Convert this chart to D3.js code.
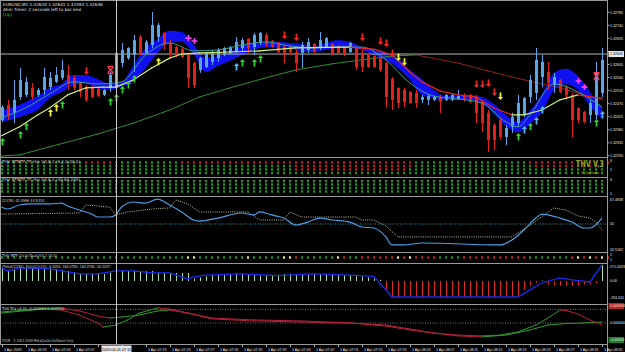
<!DOCTYPE html>
<html><head><meta charset="utf-8">
<script src="https://cdn.jsdelivr.net/npm/d3@7/dist/d3.min.js"></script>
<style>html,body{margin:0;padding:0;background:#000;overflow:hidden}svg{display:block}</style>
</head><body>
<svg id="c" width="625" height="352"></svg>
<script>
// ---------------- DATA ----------------
const symbolInfo = "EURUSD,M1  1.32620 1.32641 1.32593 1.32636";
const timerInfo = "Ahm Timer: 2 seconds left to bar end";
const open = [1.32414,1.32465,1.32438,1.32493,1.32500,1.32524,1.32500,1.32517,1.32527,1.32545,
1.32559,1.32569,1.32559,1.32541,1.32527,1.32527,1.32521,1.32500,1.32524,1.32524,
1.32610,1.32627,1.32638,1.32700,1.32645,1.32672,1.32700,1.32714,1.32679,1.32665,
1.32658,1.32638,1.32610,1.32586,1.32596,1.32614,1.32627,1.32638,1.32645,1.32648,
1.32662,1.32693,1.32665,1.32679,1.32707,1.32686,1.32679,1.32665,1.32665,1.32648,
1.32645,1.32655,1.32676,1.32662,1.32665,1.32676,1.32669,1.32662,1.32648,1.32662,
1.32645,1.32638,1.32634,1.32627,1.32610,1.32555,1.32524,1.32517,1.32510,1.32507,
1.32483,1.32483,1.32483,1.32493,1.32483,1.32483,1.32486,1.32500,1.32500,1.32493,
1.32476,1.32438,1.32396,1.32414,1.32355,1.32390,1.32403,1.32431,1.32493,1.32507,
1.32562,1.32579,1.32534,1.32552,1.32527,1.32500,1.32455,1.32441,1.32431,1.32431,1.32507];
const high = [1.32465,1.32483,1.32552,1.32593,1.32562,1.32541,1.32524,1.32593,1.32579,1.32596,
1.32621,1.32603,1.32565,1.32545,1.32534,1.32534,1.32524,1.32521,1.32579,1.32683,
1.32679,1.32665,1.32707,1.32707,1.32689,1.32786,1.32748,1.32717,1.32689,1.32669,
1.32662,1.32645,1.32614,1.32631,1.32648,1.32655,1.32662,1.32665,1.32669,1.32700,
1.32696,1.32696,1.32714,1.32717,1.32714,1.32689,1.32683,1.32672,1.32672,1.32655,
1.32683,1.32696,1.32679,1.32717,1.32700,1.32679,1.32672,1.32665,1.32683,1.32665,
1.32655,1.32645,1.32638,1.32631,1.32614,1.32562,1.32527,1.32524,1.32514,1.32517,
1.32500,1.32500,1.32496,1.32500,1.32503,1.32503,1.32517,1.32507,1.32503,1.32500,
1.32483,1.32448,1.32403,1.32421,1.32396,1.32438,1.32500,1.32493,1.32569,1.32662,
1.32638,1.32614,1.32576,1.32555,1.32534,1.32507,1.32458,1.32445,1.32483,1.32614,1.32662];
const low = [1.32407,1.32414,1.32403,1.32483,1.32493,1.32483,1.32493,1.32500,1.32517,1.32541,
1.32552,1.32517,1.32517,1.32493,1.32476,1.32489,1.32493,1.32496,1.32510,1.32510,
1.32596,1.32621,1.32579,1.32638,1.32638,1.32662,1.32683,1.32655,1.32627,1.32631,
1.32627,1.32524,1.32524,1.32576,1.32593,1.32603,1.32614,1.32634,1.32638,1.32645,
1.32648,1.32645,1.32638,1.32672,1.32665,1.32662,1.32645,1.32610,1.32638,1.32579,
1.32593,1.32645,1.32645,1.32655,1.32662,1.32638,1.32641,1.32634,1.32645,1.32586,
1.32579,1.32593,1.32593,1.32579,1.32458,1.32448,1.32455,1.32458,1.32469,1.32455,
1.32472,1.32465,1.32479,1.32438,1.32479,1.32479,1.32483,1.32476,1.32472,1.32403,
1.32372,1.32303,1.32310,1.32345,1.32327,1.32369,1.32390,1.32424,1.32472,1.32483,
1.32527,1.32517,1.32507,1.32507,1.32483,1.32352,1.32403,1.32403,1.32403,1.32414,1.32493];
const close = [1.32458,1.32431,1.32483,1.32552,1.32545,1.32493,1.32517,1.32562,1.32559,1.32569,
1.32586,1.32541,1.32524,1.32510,1.32483,1.32493,1.32496,1.32517,1.32569,1.32645,
1.32655,1.32662,1.32689,1.32645,1.32683,1.32741,1.32741,1.32672,1.32638,1.32638,
1.32631,1.32559,1.32534,1.32627,1.32645,1.32648,1.32655,1.32662,1.32665,1.32683,
1.32689,1.32662,1.32707,1.32714,1.32672,1.32665,1.32648,1.32645,1.32648,1.32610,
1.32672,1.32683,1.32648,1.32689,1.32696,1.32641,1.32645,1.32638,1.32679,1.32596,
1.32596,1.32596,1.32596,1.32586,1.32493,1.32483,1.32472,1.32476,1.32472,1.32472,
1.32493,1.32496,1.32493,1.32476,1.32500,1.32500,1.32496,1.32483,1.32476,1.32438,
1.32403,1.32345,1.32345,1.32355,1.32386,1.32424,1.32472,1.32489,1.32552,1.32621,
1.32614,1.32541,1.32562,1.32510,1.32500,1.32414,1.32414,1.32407,1.32472,1.32576,1.32621];

// blue channel (every 2nd bar)
const bandBars = d3.range(0, 101, 2);
const bandHi = [1.32448,1.32458,1.32476,1.32496,1.32524,1.32538,1.32569,1.32569,1.32555,1.32538,
1.32545,1.32603,1.32662,1.32693,1.32721,1.32717,1.32672,1.32627,1.32634,1.32648,
1.32669,1.32679,1.32683,1.32683,1.32679,1.32676,1.32665,1.32679,1.32689,1.32683,
1.32665,1.32655,1.32645,1.32627,1.32586,1.32555,1.32517,1.32496,1.32496,1.32500,
1.32493,1.32469,1.32431,1.32407,1.32445,1.32503,1.32576,1.32590,1.32565,1.32510,1.32455];
const bandLo = [1.32407,1.32417,1.32431,1.32448,1.32489,1.32510,1.32534,1.32541,1.32521,1.32517,
1.32527,1.32548,1.32593,1.32645,1.32679,1.32683,1.32641,1.32579,1.32600,1.32617,
1.32638,1.32655,1.32665,1.32665,1.32662,1.32648,1.32648,1.32655,1.32662,1.32662,
1.32655,1.32638,1.32621,1.32593,1.32552,1.32500,1.32489,1.32483,1.32483,1.32483,
1.32472,1.32434,1.32393,1.32372,1.32400,1.32441,1.32517,1.32538,1.32517,1.32462,1.32417];

const tealBars = [0,4,8,12,16,20,24,28,32,36,40,44,48,52,56,60,64,68,72,76,80,84,86,88,92,96,100];
const tealVals = [1.32421,1.32455,1.32503,1.32545,1.32538,1.32545,1.32638,1.32679,1.32652,1.32655,
1.32672,1.32683,1.32669,1.32662,1.32665,1.32665,1.32621,1.32541,1.32496,1.32486,
1.32472,1.32407,1.32390,1.32431,1.32538,1.32510,1.32458];

const midBars = [0,3,6,8,11,14,17,19,22,25,28,30,33,38,43,49,54,58,62,65,68,70,73,76,79,82,85,87,90,93,96,98,100];
const midVals = [1.32359,1.32390,1.32431,1.32455,1.32500,1.32524,1.32527,1.32527,1.32552,1.32593,
1.32627,1.32641,1.32645,1.32648,1.32652,1.32662,1.32664,1.32665,1.32658,1.32638,
1.32579,1.32545,1.32514,1.32500,1.32493,1.32455,1.32431,1.32431,1.32448,1.32483,
1.32500,1.32493,1.32489];

const slowBars = [0,3,8,16,22,28,33,38,44,49,55,60,65,69,76,81,87,93,99,100];
const slowVals = [1.32289,1.32293,1.32321,1.32365,1.32403,1.32448,1.32493,1.32524,1.32559,1.32586,
1.32607,1.32621,1.32634,1.32638,1.32610,1.32583,1.32552,1.32524,1.32489,1.32483];

const upBars  = [0,3,4,8,9,10,18,19,20,21,22,26,39,40,42,43,86,87,88,89,90,99,100];
const upVals  = [1.32338,1.32362,1.32390,1.32438,1.32455,1.32465,1.32476,1.32489,1.32517,1.32534,
1.32555,1.32614,1.32596,1.32610,1.32610,1.32624,1.32355,1.32379,1.32390,1.32410,1.32448,1.32403,1.32431];
const upKind  = ["g","g","g","y","y","g","g","g","g","g","g","y","c","g","g","g","g","c","g","c","c","g","c"];
const dnBars  = [14,47,49,60,63,64,65,66,67,79,80,81,82,83];
const dnVals  = [1.32583,1.32707,1.32700,1.32700,1.32686,1.32679,1.32645,1.32631,1.32614,1.32538,1.32538,1.32541,1.32510,1.32496];
const dnKind  = ["r","r","r","r","r","r","r","y","y","r","r","r","r","y"];
const plusBars = [31,32,96,97];
const plusVals = [1.32696,1.32686,1.32548,1.32527];
const starBars = [18,99];
const starVals = [1.32586,1.32565];

const priceTicks = [1.32785,1.32740,1.32695,1.32650,1.32605,1.32560,1.32515,1.32470,1.32425,1.32380,1.32335,1.32290];
const crossBar = 19, crossPrice = 1.32641, crossTimeLabel = "2009.04.01 07:11";
const timeLabels = ["1 Apr 2009","1 Apr 06:59","1 Apr 07:03","1 Apr 07:07","","1 Apr 07:15","1 Apr 07:19",
"1 Apr 07:23","1 Apr 07:27","1 Apr 07:31","1 Apr 07:35","1 Apr 07:39","1 Apr 07:43","1 Apr 07:47","1 Apr 07:51",
"1 Apr 07:55","1 Apr 07:59","1 Apr 08:03","1 Apr 08:07","1 Apr 08:11","1 Apr 08:15","1 Apr 08:19","1 Apr 08:23",
"1 Apr 08:27","1 Apr 08:31","1 Apr 08:35"];

// MTF dot panes (G green, R red, Y yellow)
const p2Rows = [
"GGGGGGGGGGGGGGRRRRRRGGGGGGGGGGRRRRRRRRRRRRRRRRRRRRRRRRRRRRRRRRRRRRRRRGGGGGGGGGGGGGGGGGGGRRRRRRRRRRRRRR",
"GGGGGGGGGGGGGGGGGGGGGGGGGGGGGGGGGGGGGGGGGGGGGGGGGRRRRRRRRRRRRRRRRRRRRGGGGGGGGGGGGGGGGGGGGRRRRRRRRRRRR",
"GGGGGGGGGGGGGGGGGGGGGGGGGGGGGGGGGGGGGGGGGGGGGGGGGRRRRRRRRRRRRRRRRRRRGGGGGGGGGGGGGGGGGGGGGGGGGGGGGGGGG",
"GGGGGGGGGGGGGGGGGGGGGGGGGGGGGGGGGGGGGGGGGGGGGGGGGGGGGGGGGGGGGGGGGGGGGGGGGGGGGGGGGGGGGGGGGGGGGGGGGGGGG"];
const p3Rows = [
"GGGGGGGGGGGGGGGGGGGGGGGGGGGGGGGGGGGGGGGGGGGGGGGGGGGGGGGGGGGGGGGGGGGGGGGGGGGGGGGGGGGGGGGGGGGGGGGGGGGGG",
"GGGGGGGGGGGGGGGGGGGGGGGGGGGGGGGGGGGGGGGGGGGGGGGGGGGGGGGGGGGGGGGGGGGGGGGGGGGGGGGGGGGGGGGGGGGGGGGGGGGGG",
"GGGGGGGGGGGGGGGGGGGGGGGGGGGGGGGGGGGGGGGGGGGGGGGGGGGGGGGGGGGGGGGGGGGGGGGGGGGGGGGGGGGGGGGGGGGGGGGGGGGGG",
"GGGGGGGGGGGGGGGGGGGGGGGGGGGGGGGGGGGGGGGGGGGGGGGGGGGGGGGGGGGGGGGGGGGGGGGGGGGGGGGGGGGGGGGGGGGGGGGGGGGGG"];
const p5Row =
"GGGGGGGGGGGGGGGGGGGGGGGGGGGGGGGYYGGGGGGGGYGGGGGYYRGGGGGGYRGGRRRRRRYRYRRRRGGGGRRRRRRRRRRRGGGGGGGRYRYRYR";

// oscillator pane (0-100 scale)
const oscBars = [0,1,3,5,8,10,11,13,15,16,18,19,20,22,24,26,28,30,32,33,36,40,42,43,45,47,49,51,53,55,58,60,62,64,65,67,70,83,85,87,89,90,93,95,97,98,100];
const oscVals = [61.4,60.1,62.8,63.5,63.5,64.1,62.1,59.4,56.7,54.7,54.7,56.1,61.4,64.8,64.1,66.8,62.8,58.1,52.7,52.0,
54.0,57.4,56.1,58.1,56.1,54.0,49.3,51.3,54.0,52.7,51.3,48.0,47.3,41.3,35.9,35.9,37.2,35.9,39.2,46.0,54.0,56.7,54.0,51.3,47.3,47.3,54.0];
const sigBars = [0,13,14,18,19,21,25,28,29,31,33,41,43,47,48,50,59,60,62,64,66,85,88,92,94,96,98,99,100];
const sigVals = [56.7,57.4,62.8,61.4,56.1,58.1,60.1,60.8,66.2,63.5,58.1,58.1,52.7,52.7,58.1,54.7,54.7,52.7,52.7,48.7,41.3,41.3,49.3,60.8,59.4,55.4,54.0,51.3,46.0];

// TrendCCI pane
const cciBars = [0,1,3,8,11,13,16,19,22,25,28,31,32,34,40,46,52,58,62,64,65,80,86,88,90,93,95,98,100];
const cciVals = [221,170,221,204,153,119,119,170,170,136,136,34,68,100,120,90,120,100,80,-150,-272,-272,-272,-150,-30,51,20,-17,272];
const histVals = [221,170,200,221,221,221,221,221,221,204,190,170,153,119,119,119,119,119,140,170,
170,170,170,170,170,170,136,136,136,136,136,136,40,60,80,100,110,120,120,120,120,110,100,90,90,100,110,120,120,110,
100,100,110,120,120,110,100,100,100,90,80,60,40,20,-150,-272,-272,-272,-272,-272,-272,-272,-272,-272,-272,-272,-272,-272,-272,-272,
-272,-272,-272,-272,-272,-272,-272,-150,-80,-30,10,-60,-80,-80,-80,-80,-80,-60,-60,-40,272];

// Trix pane: two lines, each drawn green while rising and red while falling
const trixABars = [0,7,10,13,16,18,20,23,26,28,31,35,42,50,58,64,68,72,76,80,83,86,89,91,93,94,96,98,100];
const trixAVals = [0.000065,0.000085,0.000088,0.000071,0.000041,0.000029,0.000035,0.000047,0.000071,0.000076,0.000059,0.000029,0.000018,0.000012,0.000000,-0.000018,-0.000041,-0.000059,-0.000071,-0.000076,-0.000071,-0.000053,-0.000012,0.000029,0.000076,0.000074,0.000053,0.000018,-0.000012];
const trixBBars = [0,7,10,13,16,17,19,21,23,26,28,31,35,42,50,58,64,68,72,76,80,84,88,91,94,97,100];
const trixBVals = [0.000059,0.000082,0.000076,0.000047,0.000000,-0.000024,-0.000012,0.000018,0.000059,0.000088,0.000082,0.000059,0.000024,0.000012,0.000006,0.000000,-0.000012,-0.000035,-0.000059,-0.000076,-0.000082,-0.000071,-0.000041,-0.000012,-0.000003,0.000000,0.000006];

// ---------------- DRAW ----------------
const svg = d3.select('#c');
const FONT = "'DejaVu Sans', 'Liberation Sans', sans-serif";
const AFONT = "'Liberation Sans', Arial, sans-serif";
const PR = 607.5;
svg.append('rect').attr('width',625).attr('height',352).attr('fill','#000');
const x = d3.scaleLinear().domain([0,100]).range([1.5,602]);
const y = d3.scaleLinear().domain([1.32290,1.32785]).range([155.8,12.3]);
const cols = {G:'#1f9a1f', R:'#c81e1e', Y:'#e8e860'};

const defs = svg.append('defs');
function clip(id, y0, y1){ defs.append('clipPath').attr('id',id).append('rect').attr('x',0).attr('y',y0).attr('width',PR).attr('height',y1-y0); }
clip('cm',1,157); clip('c4',197,252); clip('c6',264,304); clip('c7',305,344);

function slopeLine(g, sx, sy, bars, vals, upC, dnC, w){
  for(let k=0;k<bars.length-1;k++){
    g.append('line').attr('x1',sx(bars[k])).attr('y1',sy(vals[k])).attr('x2',sx(bars[k+1])).attr('y2',sy(vals[k+1]))
     .attr('stroke', vals[k+1]>=vals[k]?upC:dnC).attr('stroke-width',w).attr('stroke-linecap','round');
  }
}

const main = svg.append('g').attr('clip-path','url(#cm)');
const bandArea = d3.area().x((d,k)=>x(bandBars[k])).y0((d,k)=>y(bandLo[k])).y1((d,k)=>y(bandHi[k])).curve(d3.curveMonotoneX);
main.append('path').datum(bandBars).attr('d',bandArea).attr('fill','#1010f0');
main.append('line').attr('x1',0).attr('x2',PR).attr('y1',y(crossPrice)).attr('y2',y(crossPrice)).attr('stroke','#b4b4b4').attr('stroke-width',1);
slopeLine(main, x, y, slowBars, slowVals, '#2f8f2f', '#8e1f1f', 1);
const idx = d3.range(open.length);
main.selectAll('line.wick').data(idx).join('line').attr('class','wick')
  .attr('x1',i=>Math.round(x(i))+0.5).attr('x2',i=>Math.round(x(i))+0.5)
  .attr('y1',i=>y(high[i])).attr('y2',i=>y(low[i]))
  .attr('stroke',i=>close[i]>=open[i]?'#5aa6ea':'#e3201c').attr('stroke-width',1);
main.selectAll('rect.body').data(idx).join('rect').attr('class','body')
  .attr('x',i=>Math.round(x(i))-1).attr('width',3)
  .attr('y',i=>Math.min(y(open[i]),y(close[i])))
  .attr('height',i=>Math.max(1,Math.abs(y(open[i])-y(close[i]))))
  .attr('fill',i=>close[i]>=open[i]?'#5aa6ea':'#e3201c');
main.append('path').datum(tealBars).attr('fill','none').attr('stroke','#3e9f8c').attr('stroke-width',1)
  .attr('d',d3.line().x((d,k)=>x(d)).y((d,k)=>y(tealVals[k])).curve(d3.curveMonotoneX));
slopeLine(main, x, y, midBars, midVals, '#cdf07a', '#e0282a', 1.2);
const aCol = {g:'#2fd02f', y:'#f0f040', c:'#5ab8f0', r:'#f02828'};
function upArrow(cx, cy){ return `M${cx},${cy-4} L${cx+2.6},${cy-1} L${cx+0.9},${cy-1} L${cx+0.9},${cy+3.5} L${cx-0.9},${cy+3.5} L${cx-0.9},${cy-1} L${cx-2.6},${cy-1}Z`; }
function dnArrow(cx, cy){ return `M${cx},${cy+4} L${cx+2.6},${cy+1} L${cx+0.9},${cy+1} L${cx+0.9},${cy-3.5} L${cx-0.9},${cy-3.5} L${cx-0.9},${cy+1} L${cx-2.6},${cy+1}Z`; }
main.selectAll('path.up').data(upBars).join('path').attr('class','up')
  .attr('d',(d,k)=>upArrow(Math.round(x(d))+0.5, y(upVals[k]))).attr('fill',(d,k)=>aCol[upKind[k]]);
main.selectAll('path.dn').data(dnBars).join('path').attr('class','dn')
  .attr('d',(d,k)=>dnArrow(Math.round(x(d))+0.5, y(dnVals[k]))).attr('fill',(d,k)=>aCol[dnKind[k]]);
plusBars.forEach((b,k)=>{
  const cx=Math.round(x(b))+0.5, cy=y(plusVals[k]);
  main.append('path').attr('d',`M${cx-3},${cy}H${cx+3}M${cx},${cy-3}V${cy+3}`).attr('stroke','#ff40ff').attr('stroke-width',1.6);
});
starBars.forEach((b,k)=>{
  const cx=Math.round(x(b))+0.5, cy=y(starVals[k]);
  main.append('path').attr('d',`M${cx-2.5},${cy-2.5}L${cx+2.5},${cy+2.5}M${cx+2.5},${cy-2.5}L${cx-2.5},${cy+2.5}M${cx-3},${cy-3.5}H${cx+3}M${cx-3},${cy+3.5}H${cx+3}`)
    .attr('stroke','#ff3a5a').attr('stroke-width',1.3);
});

function dotRows(rows, ys){
  rows.forEach((r,ri)=>{
    const g = svg.append('g');
    g.selectAll('rect').data(r.split('')).join('rect')
     .attr('x',(c,i)=>Math.round(x(i))-1).attr('y',ys[ri]-1.2).attr('width',2).attr('height',2.4)
     .attr('fill',c=>cols[c]);
  });
}
dotRows(p2Rows,[162.5,166,169.5,173]);
dotRows(p3Rows,[181,184.5,188,191.5]);
dotRows([p5Row],[257.5]);

const yo = d3.scaleLinear().domain([32.5,67.5]).range([250,198]);
const g4 = svg.append('g').attr('clip-path','url(#c4)');
g4.append('line').attr('x1',0).attr('x2',PR).attr('y1',yo(50)).attr('y2',yo(50)).attr('stroke','#2aa0b0').attr('stroke-dasharray','1,1.5');
g4.append('path').datum(sigBars).attr('fill','none').attr('stroke','#d8d4a0').attr('stroke-dasharray','1,1.2').attr('stroke-width',0.9)
  .attr('d',d3.line().x(d=>x(d)).y((d,k)=>yo(sigVals[k])));
g4.append('path').datum(oscBars).attr('fill','none').attr('stroke','#4a9ee6').attr('stroke-width',1.2)
  .attr('d',d3.line().x(d=>x(d)).y((d,k)=>yo(oscVals[k])).curve(d3.curveMonotoneX));

const yc = d3.scaleLinear().domain([-356.611,271.0323]).range([302,265]);
const g6 = svg.append('g').attr('clip-path','url(#c6)');
g6.selectAll('line.h').data(histVals).join('line').attr('class','h')
  .attr('x1',(d,i)=>Math.round(x(i))+0.5).attr('x2',(d,i)=>Math.round(x(i))+0.5)
  .attr('y1',yc(0)).attr('y2',d=>yc(d)).attr('stroke',d=>d>=0?'#a8e0a8':'#e02828').attr('stroke-width',1);
g6.append('path').datum(cciBars).attr('fill','none').attr('stroke','#1a2af0').attr('stroke-width',1.3)
  .attr('d',d3.line().x(d=>x(d)).y((d,k)=>yc(cciVals[k])));

const yt = d3.scaleLinear().domain([-0.0001,0.0001]).range([340,306]);
const g7 = svg.append('g').attr('clip-path','url(#c7)');
[0.00008, 0].forEach(v=>g7.append('line').attr('x1',0).attr('x2',PR).attr('y1',yt(v)).attr('y2',yt(v)).attr('stroke','#777').attr('stroke-dasharray','1,1.5'));
slopeLine(g7, x, yt, trixBBars, trixBVals, '#2e9a2e', '#b8203c', 1);
slopeLine(g7, x, yt, trixABars, trixAVals, '#2e9a2e', '#b8203c', 1);

const sep = [157.5,177.5,196.5,252.5,263.5,304.5,344.5];
sep.forEach(v=>svg.append('line').attr('x1',0).attr('x2',PR).attr('y1',v).attr('y2',v).attr('stroke','#9a9a9a'));
svg.append('line').attr('x1',0.5).attr('x2',0.5).attr('y1',0).attr('y2',344.5).attr('stroke','#9a9a9a');
svg.append('line').attr('x1',0).attr('x2',PR).attr('y1',0.5).attr('y2',0.5).attr('stroke','#9a9a9a');
svg.append('line').attr('x1',PR).attr('x2',PR).attr('y1',0).attr('y2',352).attr('stroke','#9a9a9a');
svg.append('line').attr('x1',Math.round(x(crossBar))+0.5).attr('x2',Math.round(x(crossBar))+0.5).attr('y1',0).attr('y2',344).attr('stroke','#c8c8c8');

const T = (tx,ty,s,opt={})=>{
  const t = svg.append('text').attr('x',tx).attr('y',ty).text(s)
   .attr('font-family',opt.ff||FONT).attr('font-size',opt.fs||4.6).attr('fill',opt.fill||'#e6e6e6')
   .attr('text-anchor',opt.anchor||'start').attr('font-weight',opt.fw||'normal');
  if(opt.len) t.attr('textLength',opt.len).attr('lengthAdjust','spacingAndGlyphs');
  return t;
};
T(3,6,symbolInfo,{fs:4.2});
T(3,11,timerInfo,{fs:4.2});
T(3,16,"[Up]",{fill:'#2fc02f',fs:4.2});
T(2,162.5,"THV BTMTF TF Hm V4.8.2 (6,1,0.00,0)",{fill:'#d0d0d0',fs:4,len:78});
T(2,181,"THV BTMTF TF Hm V4.8.2 (30,60,240)",{fill:'#d0d0d0',fs:4,len:78});
T(2,201.5,"CCI(50) 42.4996 44.5334",{fill:'#d0d0d0',fs:4,len:42});
T(2,257,"THV MTF Ciclo Dual V3.1 (0,0)",{fill:'#d0d0d0',fs:4,len:55});
T(2,268,"(TrendCCI(50), EntryCCI(14)) -0.0000 -164.0780 -164.0780 -30.3207",{fill:'#d0d0d0',fs:4,len:108});
T(2,309.5,"THV Trix v4.01 -0.000009 0.000000",{fill:'#d0d0d0',fs:4,len:62});
T(2,342,"FXCM - © 2001-2009 MetaQuotes Software Corp.",{fill:'#c0c0c0',fs:4,len:72});
T(590,167,"THV V.3",{fs:8,fill:'#8aa020',anchor:'middle',fw:'bold',len:28});
T(590,174,"© Systems",{fs:3.8,fill:'#c0c000',anchor:'middle',len:18});

// right axis
const AX = PR+2.5;
const A = (ty,s,fill)=>T(AX,ty,s,{fs:3.6,ff:AFONT,fill:fill||'#e6e6e6'});
priceTicks.forEach(p=>{
  svg.append('line').attr('x1',PR).attr('x2',PR+2).attr('y1',y(p)).attr('y2',y(p)).attr('stroke','#aaa');
  if(Math.abs(y(p)-y(crossPrice))>5) A(y(p)+1.3,p.toFixed(5));
});
svg.append('rect').attr('x',PR+1).attr('y',y(crossPrice)-3).attr('width',15.5).attr('height',6).attr('fill','#e8e8e8');
A(y(crossPrice)+1.3,crossPrice.toFixed(5),'#000');
A(161.5,"6"); A(171,"1");
A(181,"6"); A(194.5,"1");
A(200.5,"67.4838"); A(yo(50)+1.3,"50"); A(250.5,"32.5162");
A(256,"1"); A(261,"1");
A(267.5,"271.0323"); A(yc(0)+1.3,"0.00"); A(299,"-356.611");
svg.append('rect').attr('x',PR+1).attr('y',yt(0.0001)-3).attr('width',15.5).attr('height',6).attr('fill','#c02020');
A(yt(0.0001)+1.3,"0.000094");
A(yt(0)+1.3,"0.000000");
svg.append('rect').attr('x',PR+1).attr('y',yt(-0.0001)-3).attr('width',15.5).attr('height',6).attr('fill','#208020');
A(yt(-0.0001)+1.3,"-0.00009");

// time axis
const cxp = Math.round(x(crossBar))+0.5;
timeLabels.forEach((s,k)=>{
  const bx = Math.round(x(k*4))+0.5;
  svg.append('line').attr('x1',bx).attr('x2',bx).attr('y1',344.5).attr('y2',347).attr('stroke','#aaa');
  if(s && Math.abs(bx+10-cxp)>20) T(bx+1.5,350.5,s,{fs:3.6,ff:AFONT});
});
svg.append('rect').attr('x',cxp-15).attr('y',345.5).attr('width',30).attr('height',6.5).attr('fill','#e8e8e8');
T(cxp,350.5,crossTimeLabel,{fill:'#000',anchor:'middle',fs:3.8,ff:AFONT});
</script>
</body></html>
